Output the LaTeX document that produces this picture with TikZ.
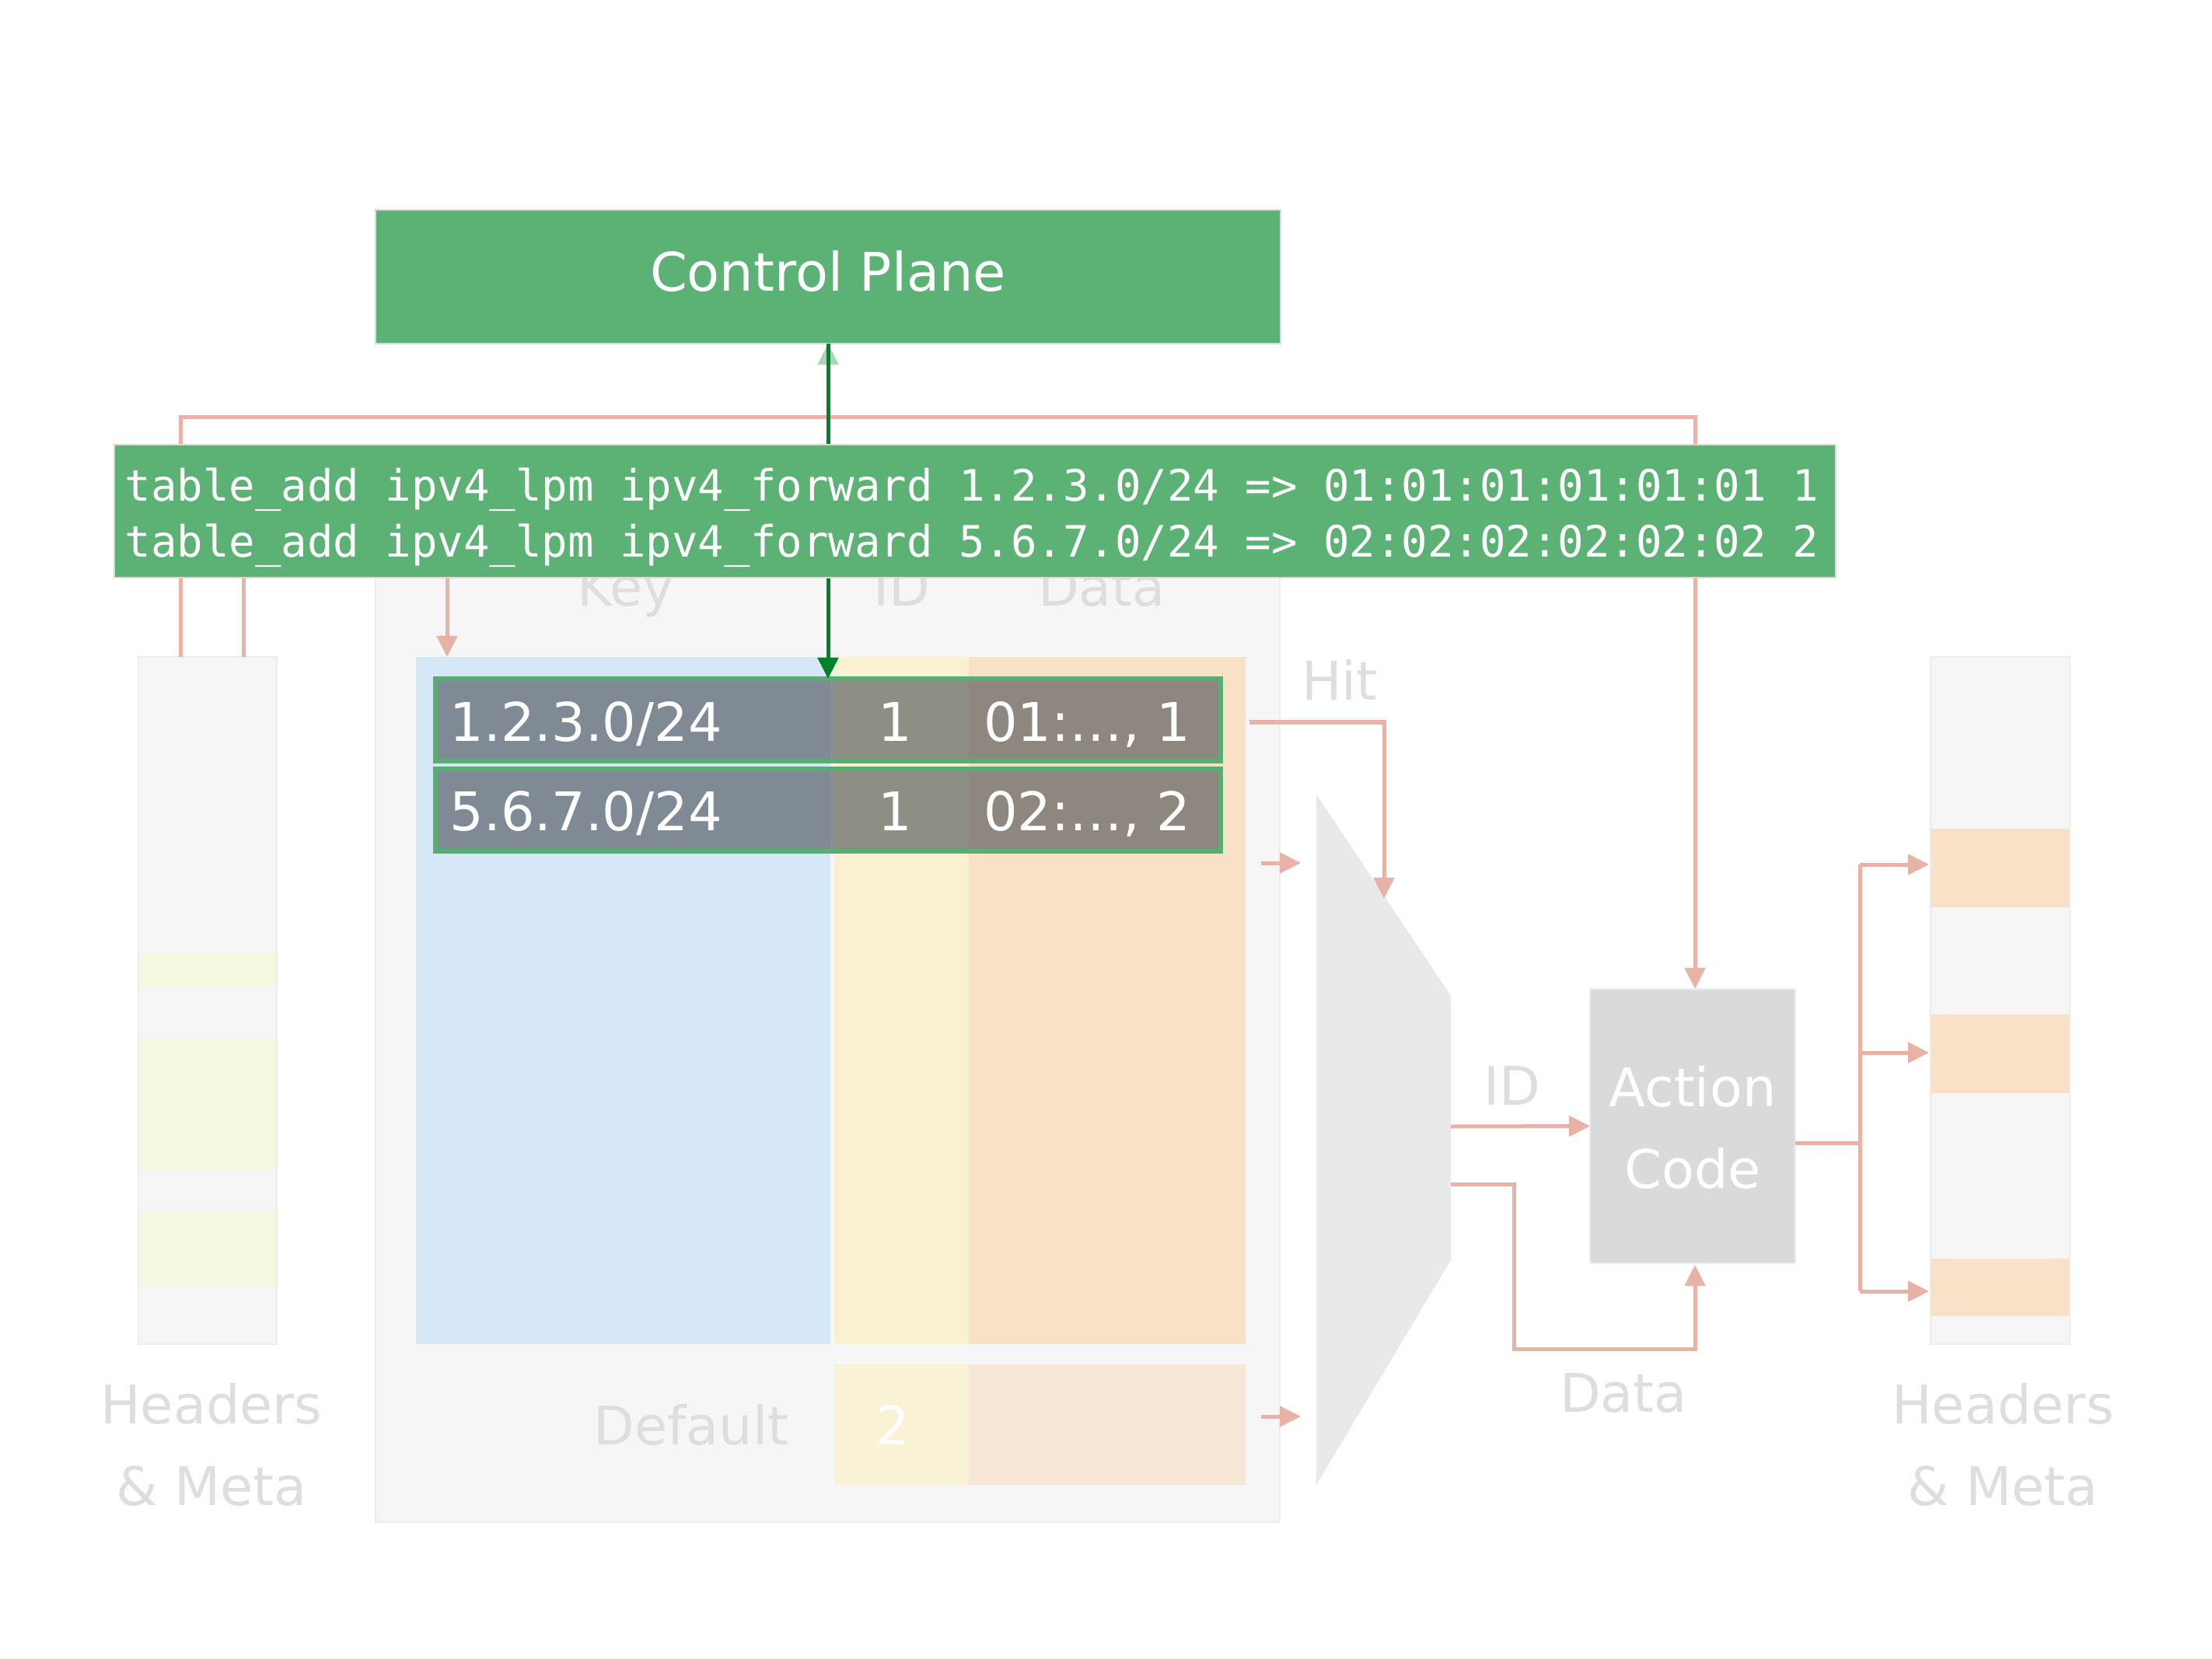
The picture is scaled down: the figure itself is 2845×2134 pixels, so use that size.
\documentclass[tikz,border=0pt]{standalone}
\usepackage{fontspec}
\newfontfamily\labfont{DejaVu Sans}
\newfontfamily\codefont{DejaVu Sans Mono}
\usetikzlibrary{arrows.meta}
\definecolor{cpgreen}{RGB}{92,178,117}
\definecolor{cpedge}{RGB}{214,221,215}
\definecolor{pinkln}{RGB}{233,178,166}
\definecolor{dkgreen}{RGB}{0,128,40}
\definecolor{ltgreen}{RGB}{170,214,183}
\definecolor{tblgray}{RGB}{246,246,246}
\definecolor{tbledge}{RGB}{236,236,236}
\definecolor{keyblue}{RGB}{214,231,247}
\definecolor{idyellow}{RGB}{249,241,207}
\definecolor{dataorange}{RGB}{248,225,199}
\definecolor{defyellow}{RGB}{249,242,212}
\definecolor{deforange}{RGB}{246,231,214}
\definecolor{rowfill}{RGB}{70,76,82}
\definecolor{rowedge}{RGB}{88,174,114}
\definecolor{hmgreen}{RGB}{242,249,224}
\definecolor{muxgray}{RGB}{232,233,232}
\definecolor{actgray}{RGB}{217,218,220}
\definecolor{actedge}{RGB}{238,238,238}
\definecolor{lblgray}{RGB}{222,222,222}
\begin{document}
\begin{tikzpicture}[x=0.01cm,y=-0.01cm,
  box/.style={rectangle,inner sep=0pt,outer sep=0pt,anchor=north west},
  sz/.style 2 args={minimum width=#1*0.01cm,minimum height=#2*0.01cm},
  lbl/.style={font=\labfont\fontsize{19.5}{30}\selectfont,text=lblgray,inner sep=0pt},
  lblw/.style={font=\labfont\fontsize{19.5}{30}\selectfont,text=white,inner sep=0pt},
  codetxt/.style={font=\codefont\fontsize{15.83}{20}\selectfont,text=white,inner sep=0pt},
  pinkl/.style={draw=pinkln,line width=0.05cm},
  pinka/.style={pinkl,-{Triangle[length=0.27cm,width=0.26cm]}},
  greena/.style={line width=0.05cm,-{Triangle[length=0.27cm,width=0.26cm]}},
]
\fill[white] (0,0) rectangle (2845,2134);
\useasboundingbox (0,0) rectangle (2845,2134);

% Control plane
\node[box,sz={1164}{172},fill=cpgreen,draw=cpedge,line width=0.8pt] (cp) at (483,270) {};
\node[lblw,anchor=base] (cpt) at (1065,375) {Control Plane};

% faint upward arrow into control plane
\coordinate (fa) at (1065,537);
\draw[greena,draw=ltgreen,fill=ltgreen] (fa) -- (cp.south);

% headers & meta bars
\node[box,sz={178}{884},fill=tblgray,draw=tbledge,line width=0.4pt] (hmL) at (178,845) {};
\fill[hmgreen] (179,1227) rectangle (355,1269);
\fill[hmgreen] (179,1336) rectangle (355,1504);
\fill[hmgreen] (179,1557) rectangle (355,1655);
\node[box,sz={179}{884},fill=tblgray,draw=tbledge,line width=0.4pt] (hmR) at (2483,845) {};
\fill[dataorange] (2484,1066) rectangle (2661,1167);
\fill[dataorange] (2484,1305) rectangle (2661,1406);
\fill[dataorange] (2484,1619) rectangle (2661,1693);

% action code
\node[box,sz={264}{353},fill=actgray,draw=actedge,line width=0.8pt] (act) at (2045,1272) {};
\node[lblw,anchor=base] (actt1) at (2177,1423) {Action};
\node[lblw,anchor=base] (actt2) at (2177,1528) {Code};

% mux
\coordinate (m1) at (1693,1022);
\coordinate (m2) at (1866,1281);
\coordinate (m3) at (1866,1621);
\coordinate (m4) at (1693,1910);
\fill[muxgray] (m1) -- (m2) -- (m3) -- (m4) -- cycle;

% top pink line
\coordinate (hl1) at (232,845);
\coordinate (hl2) at (313,845);
\coordinate (hl2s) at (313,700);
\coordinate (topl) at (232,537);
\coordinate (topr) at (2180,537);
\coordinate (actn) at (2180,1272);
\draw[pinka] (hl1) -- (topl) -- (topr) -- (actn);
\draw[pinkl] (hl2s) -- (hl2);

% table
\node[box,sz={1163}{1258},fill=tblgray,draw=tbledge,line width=0.4pt] (tbl) at (483,700) {};
\node[box,sz={533}{884},fill=keyblue] (keycol) at (535,845) {};
\node[box,sz={173}{884},fill=idyellow] (idcol) at (1073,845) {};
\node[box,sz={356}{884},fill=dataorange] (datacol) at (1246,845) {};
\node[box,sz={173}{155},fill=defyellow] (defid) at (1073,1755) {};
\node[box,sz={356}{155},fill=deforange] (defdata) at (1246,1755) {};

\coordinate (ka) at (575,700);
\coordinate (kb) at (575,845);
\draw[pinka] (ka) -- (kb);

% rows
\node[box,sz={1010}{106},fill=rowfill,fill opacity=0.6,draw=rowedge,line width=0.06cm] (row1) at (560,873) {};
\node[box,sz={1010}{106},fill=rowfill,fill opacity=0.6,draw=rowedge,line width=0.06cm] (row2) at (560,989) {};

% dark green arrow
\draw[greena,draw=dkgreen,fill=dkgreen] (cp.south) -- (row1.north);

% header labels (partly hidden)
\node[lbl,anchor=base] (hkey) at (805,780) {Key};
\node[lbl,anchor=base] (hid) at (1160,780) {ID};
\node[lbl,anchor=base] (hdata) at (1417,780) {Data};

% code box
\node[box,sz={2214}{171},fill=cpgreen,draw=cpedge,line width=0.8pt] (code) at (147,572) {};
\node[codetxt,anchor=base west] (c1) at (160,645) {table\_add ipv4\_lpm ipv4\_forward 1.2.3.0/24 => 01:01:01:01:01:01 1};
\node[codetxt,anchor=base west] (c2) at (160,717) {table\_add ipv4\_lpm ipv4\_forward 5.6.7.0/24 => 02:02:02:02:02:02 2};

% row texts
\node[lblw,anchor=base west] (r1k) at (578,953) {1.2.3.0/24};
\node[lblw,anchor=base] (r1i) at (1151,953) {1};
\node[lblw,anchor=base east] (r1d) at (1532,953) {01:…, 1};
\node[lblw,anchor=base west] (r2k) at (578,1068) {5.6.7.0/24};
\node[lblw,anchor=base] (r2i) at (1151,1068) {1};
\node[lblw,anchor=base east] (r2d) at (1532,1068) {02:…, 2};

% default row
\node[lbl,anchor=base east] (deft) at (1015,1858) {Default};
\node[lblw,anchor=base] (def2) at (1148,1858) {2};

% headers & meta labels
\node[lbl,anchor=base] (hmL1) at (272,1831) {Headers};
\node[lbl,anchor=base] (hmL2) at (272,1936) {\& Meta};
\node[lbl,anchor=base] (hmR1) at (2576,1831) {Headers};
\node[lbl,anchor=base] (hmR2) at (2576,1936) {\& Meta};

% Hit arrow
\coordinate (hs) at (1607,929);
\coordinate (hc) at (1780,929);
\coordinate (ht) at (1780,1156);
\draw[pinka] (hs) -- (hc) -- (ht);
\node[lbl,anchor=base] (hitl) at (1723,900) {Hit};

% small arrows into mux
\coordinate (sa1) at (1622,1110);
\coordinate (sa1t) at (1673,1110);
\coordinate (sa2) at (1622,1822);
\coordinate (sa2t) at (1673,1822);
\draw[pinka] (sa1) -- (sa1t);
\draw[pinka] (sa2) -- (sa2t);

% ID arrow
\coordinate (muxid) at (1866,1449);
\draw[pinka] (muxid) -- (act.west);
\node[lbl,anchor=base] (idl) at (1945,1421) {ID};

% Data arrow
\coordinate (muxdata) at (1866,1523);
\coordinate (d1) at (1947,1523);
\coordinate (d2) at (1947,1735);
\coordinate (d3) at (2180,1735);
\coordinate (acts) at (2180,1627);
\draw[pinka] (muxdata) -- (d1) -- (d2) -- (d3) -- (acts);
\node[lbl,anchor=base] (datal) at (2088,1816) {Data};

% output arrows
\coordinate (ao) at (2309,1470);
\coordinate (bus) at (2392,1470);
\coordinate (b1) at (2392,1112);
\coordinate (b2) at (2392,1354);
\coordinate (b3) at (2392,1661);
\coordinate (o1) at (2481,1112);
\coordinate (o2) at (2481,1354);
\coordinate (o3) at (2481,1661);
\draw[pinkl] (ao) -- (bus);
\draw[pinkl] (b1) -- (b3);
\draw[pinka] (b1) -- (o1);
\draw[pinka] (b2) -- (o2);
\draw[pinka] (b3) -- (o3);
\end{tikzpicture}
\end{document}
